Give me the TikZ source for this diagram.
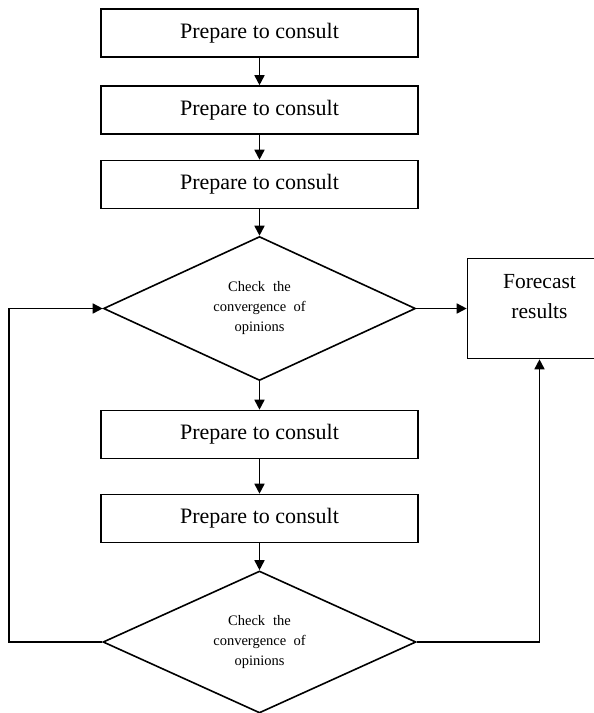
\documentclass[tikz,border=0pt]{standalone}
\usepackage{fontspec}
\setmainfont{Liberation Serif}
\usepackage{tikz}
\usetikzlibrary{positioning, arrows.meta, shapes.geometric}

\newcommand{\wordgap}{\spaceskip=0.45em plus 0.1em\relax}

\begin{document}
\begin{tikzpicture}[x=1pt, y=1pt, on grid, line width=1.6pt,
    stepbox/.style={draw, rectangle, minimum width=317pt, minimum height=48pt,
        font=\fontsize{22}{26}\selectfont},
    checkbox/.style={draw, diamond, aspect=2.15, minimum width=312pt, minimum height=144pt,
        inner sep=0pt, text width=120pt, align=center,
        font=\fontsize{14.5}{20}\selectfont},
    resultbox/.style={draw, rectangle, minimum width=144pt, minimum height=100pt},
    arr/.style={-{Triangle[length=10pt, width=10pt]}}]
    \useasboundingbox (0,0) rectangle (594,-713);

    \node[stepbox] (B1) at (259.5,-33) {Prepare to consult};
    \node[stepbox] (B2) [below=77pt of B1] {Prepare to consult};
    \node[stepbox] (B3) [below=74.5pt of B2] {Prepare to consult};
    \node[checkbox] (D1) [below=124pt of B3] {\wordgap Check the\\convergence of\\opinions};
    \node[resultbox] (F) [right=280pt of D1] {};
    \node[align=center, font=\fontsize{21.5}{30}\selectfont] (Ftxt) at ([yshift=12pt]F.center) {Forecast\\results};
    \node[stepbox] (B4) [below=126pt of D1] {Prepare to consult};
    \node[stepbox] (B5) [below=84pt of B4] {Prepare to consult};
    \node[checkbox] (D2) [below=123.5pt of B5, minimum width=313pt, minimum height=142pt] {\wordgap Check the\\convergence of\\opinions};
    \coordinate (loop) at (9,0);

    \path[arr]
    (B1) edge (B2)
    (B2) edge (B3)
    (B3) edge (D1)
    (D1) edge (F)
         edge (B4)
    (B4) edge (B5)
    (B5) edge (D2);

    \draw[arr] (D2.west) -- (D2.west -| loop) |- (D1.west); % back to the check
    \draw[arr] (D2.east) -| (F.south);
\end{tikzpicture}
\end{document}
